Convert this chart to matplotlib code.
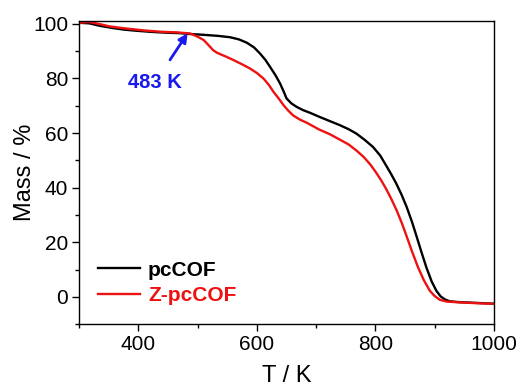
import numpy as np
import matplotlib
matplotlib.use('Agg')
import matplotlib.pyplot as plt
from matplotlib.ticker import MultipleLocator

plt.rcParams['font.family'] = ['Liberation Sans', 'DejaVu Sans']

# TGA traces: temperature (K) vs remaining mass (%)
T_pc = [300, 317, 335, 356, 376, 396, 420, 445, 470, 487, 510, 535, 555, 570, 583, 595,
        605, 614, 622, 631, 639, 645, 650, 658, 667, 678, 690, 706, 723, 740, 755, 768,
        782, 796, 808, 819, 827, 835, 844, 853, 862, 870, 878, 886, 895, 903, 910, 917,
        925, 940, 960, 980, 1000]
M_pc = [100.4, 100.2, 99.3, 98.5, 97.9, 97.5, 97.1, 96.8, 96.6, 96.3, 96.0, 95.6, 95.1,
        94.3, 93.1, 91.4, 89.2, 86.9, 84.3, 81.3, 78.2, 75.3, 72.7, 70.9, 69.6, 68.4, 67.4,
        65.9, 64.4, 62.9, 61.4, 59.8, 57.5, 54.9, 51.8, 47.8, 44.8, 41.6, 37.5, 32.8, 27.3,
        21.8, 16.2, 10.8, 5.6, 2.2, 0.2, -0.9, -1.6, -1.9, -2.1, -2.3, -2.5]

T_z = [300, 317, 335, 351, 368, 384, 410, 440, 465, 487, 500, 510, 518, 526, 532, 538,
       548, 560, 574, 588, 600, 611, 620, 628, 637, 645, 653, 661, 672, 684, 695, 706,
       723, 740, 755, 768, 780, 791, 801, 810, 818, 827, 836, 845, 853, 862, 872, 882,
       892, 900, 909, 920, 940, 960, 980, 1000]
M_z = [100.4, 100.7, 99.9, 99.1, 98.6, 98.2, 97.6, 97.1, 96.9, 96.5, 95.3, 94.1, 92.3,
       90.4, 89.5, 88.9, 88.0, 86.8, 85.3, 83.7, 82.0, 80.0, 77.7, 75.1, 72.6, 70.2, 68.2,
       66.5, 65.0, 63.8, 62.5, 61.2, 59.6, 57.6, 55.8, 53.6, 51.3, 48.6, 45.6, 42.6, 39.6,
       35.8, 31.6, 26.8, 22.0, 16.5, 10.8, 6.0, 2.2, 0.3, -1.1, -1.7, -2.0, -2.2, -2.4, -2.5]

onset_T = 483
onset_M = 96.6

fig, ax = plt.subplots(figsize=(5.21, 3.92), dpi=100)
fig.subplots_adjust(left=0.152, right=0.948, top=0.946, bottom=0.173)

ax.plot(T_pc, M_pc, color='black', lw=1.7, label='pcCOF', solid_joinstyle='round')
ax.plot(T_z, M_z, color='#ee1111', lw=1.7, label='Z-pcCOF', solid_joinstyle='round')

ax.annotate(f'{onset_T} K', xy=(onset_T, onset_M), xytext=(428, 78.5),
            color='#1a1aee', fontsize=14.5, fontweight='bold', ha='center', va='center',
            arrowprops=dict(arrowstyle='-|>', color='#1a1aee', lw=2,
                            shrinkA=9, shrinkB=0, mutation_scale=13))

ax.set_xlim(300, 1000)
ax.set_ylim(-10, 101)
ax.xaxis.set_minor_locator(MultipleLocator(100))
ax.yaxis.set_major_locator(MultipleLocator(20))
ax.yaxis.set_minor_locator(MultipleLocator(10))
ax.set_xticks([400, 600, 800, 1000])
ax.tick_params(which='major', direction='out', length=5, width=1, labelsize=15, pad=3)
ax.tick_params(which='minor', direction='out', length=3, width=1)
for s in ax.spines.values():
    s.set_linewidth(1.0)

ax.set_xlabel('T / K', fontsize=17, labelpad=8)
ax.set_ylabel('Mass / %', fontsize=17, labelpad=-2)

leg = ax.legend(loc='lower left', bbox_to_anchor=(0.0, 0.0), frameon=False,
                prop={'weight': 'bold', 'size': 15}, handlelength=2.0,
                handletextpad=0.4, labelspacing=0.33)
for txt, ln in zip(leg.get_texts(), leg.get_lines()):
    txt.set_color(ln.get_color())

fig.savefig('out.png', dpi=100)
